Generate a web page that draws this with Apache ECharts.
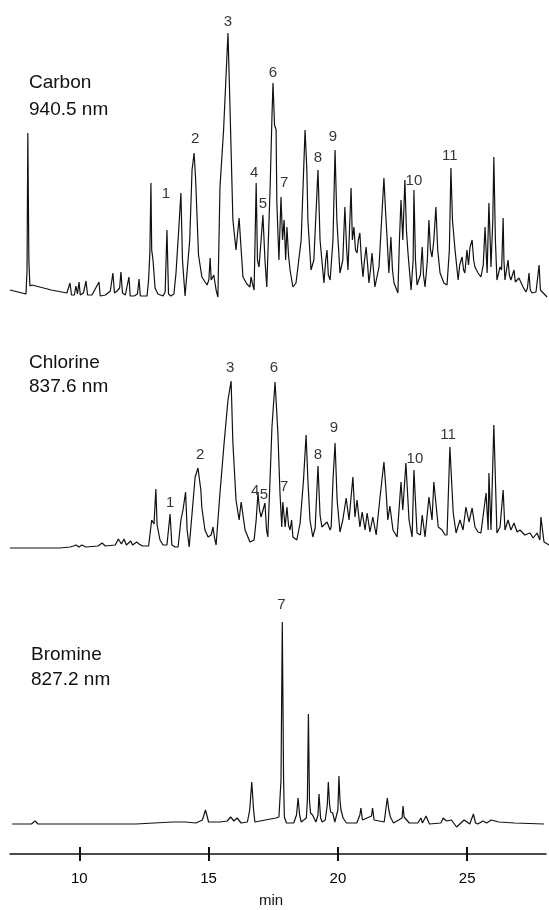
<!DOCTYPE html>
<html>
<head>
<meta charset="utf-8">
<script src="https://cdn.jsdelivr.net/npm/echarts@6/dist/echarts.min.js"></script>
<style>
  html, body { margin: 0; padding: 0; background: #fff; }
  #chroma { width: 549px; height: 910px; }
</style>
</head>
<body>
<div id="chroma"></div>
<script>
// retention time (min), detector response (arbitrary units)
var carbonTrace = [
  [7.32, 10], [7.94, 6], [7.98, 30], [8.01, 167], [8.05, 40], [8.09, 14], [8.17, 15], [8.92, 10], [9.52, 7],
  [9.59, 7], [9.64, 17], [9.70, 5], [9.81, 5], [9.87, 14], [9.93, 6], [9.99, 18], [10.04, 5], [10.16, 7],
  [10.26, 19], [10.32, 5], [10.49, 5], [10.76, 18], [10.81, 4], [11.01, 5], [11.20, 9], [11.30, 27], [11.36, 7],
  [11.46, 9], [11.56, 12], [11.61, 28], [11.67, 7], [11.78, 5], [11.92, 23], [11.97, 4], [12.12, 4], [12.25, 6],
  [12.31, 21], [12.36, 4], [12.62, 4], [12.68, 20], [12.73, 48], [12.77, 117], [12.80, 50], [12.85, 40],
  [12.93, 12], [13.04, 6], [13.24, 4], [13.32, 8], [13.39, 70], [13.45, 6], [13.54, 4], [13.66, 6], [13.74, 27],
  [13.82, 60], [13.93, 107], [13.99, 40], [14.09, 4], [14.16, 6], [14.27, 60], [14.36, 130], [14.44, 147],
  [14.50, 120], [14.61, 45], [14.74, 23], [14.94, 15], [15.01, 20], [15.06, 42], [15.10, 20], [15.20, 25],
  [15.29, 10], [15.36, 3], [15.44, 113], [15.58, 170], [15.75, 267], [15.82, 200], [15.94, 80], [16.06, 50],
  [16.18, 82], [16.26, 50], [16.33, 23], [16.48, 16], [16.60, 13], [16.64, 23], [16.72, 14], [16.76, 10],
  [16.84, 117], [16.89, 40], [16.95, 33], [17.03, 60], [17.10, 85], [17.18, 40], [17.25, 13], [17.38, 113],
  [17.45, 183], [17.49, 217], [17.55, 175], [17.61, 170], [17.64, 97], [17.72, 40], [17.80, 103], [17.86, 60],
  [17.92, 80], [17.98, 40], [18.03, 73], [18.09, 45], [18.15, 30], [18.26, 13], [18.38, 17], [18.45, 15],
  [18.58, 60], [18.73, 170], [18.80, 130], [18.84, 80], [18.96, 30], [19.07, 40], [19.23, 130], [19.31, 60],
  [19.46, 17], [19.53, 40], [19.58, 50], [19.63, 25], [19.70, 20], [19.81, 60], [19.89, 150], [19.96, 80],
  [20.08, 27], [20.19, 40], [20.27, 93], [20.34, 50], [20.39, 30], [20.51, 112], [20.56, 60], [20.62, 73],
  [20.68, 50], [20.74, 47], [20.79, 60], [20.85, 67], [20.91, 40], [20.97, 23], [21.03, 40], [21.09, 53],
  [21.15, 35], [21.20, 17], [21.26, 30], [21.32, 47], [21.35, 45], [21.43, 13], [21.48, 13], [21.59, 33],
  [21.69, 80], [21.78, 122], [21.84, 90], [21.90, 63], [21.97, 27], [22.05, 63], [22.11, 30], [22.17, 17],
  [22.32, 7], [22.38, 60], [22.44, 100], [22.51, 60], [22.59, 120], [22.65, 70], [22.71, 47], [22.83, 10],
  [22.91, 40], [22.94, 110], [23.00, 40], [23.06, 15], [23.19, 25], [23.26, 53], [23.31, 25], [23.37, 13],
  [23.46, 40], [23.52, 80], [23.58, 50], [23.64, 43], [23.71, 60], [23.79, 93], [23.86, 50], [23.95, 27],
  [24.10, 17], [24.22, 15], [24.31, 50], [24.37, 132], [24.43, 80], [24.53, 50], [24.65, 20], [24.71, 35],
  [24.80, 43], [24.86, 30], [24.91, 27], [24.99, 50], [25.05, 35], [25.11, 53], [25.19, 60], [25.25, 40],
  [25.30, 33], [25.42, 27], [25.53, 23], [25.62, 35], [25.69, 73], [25.77, 27], [25.84, 97], [25.90, 50],
  [25.92, 33], [25.99, 80], [26.03, 143], [26.09, 60], [26.15, 20], [26.27, 33], [26.33, 30], [26.39, 82],
  [26.42, 40], [26.46, 20], [26.58, 40], [26.63, 25], [26.69, 20], [26.81, 30], [26.86, 18], [26.93, 17],
  [27.00, 22], [27.04, 23], [27.16, 13], [27.27, 8], [27.33, 12], [27.39, 27], [27.44, 10], [27.51, 7],
  [27.66, 8], [27.78, 35], [27.83, 10], [27.89, 8], [28.09, 3]
];

var chlorineTrace = [
  [7.32, 12], [7.97, 12], [8.92, 12], [9.25, 12], [9.64, 13], [9.78, 14], [9.87, 15], [9.99, 13], [10.10, 15],
  [10.25, 13], [10.73, 14], [10.88, 17], [11.01, 14], [11.39, 15], [11.51, 21], [11.63, 16], [11.73, 21],
  [11.82, 15], [11.99, 19], [12.06, 15], [12.22, 18], [12.31, 16], [12.44, 14], [12.58, 14], [12.68, 14],
  [12.80, 40], [12.89, 36], [12.96, 71], [13.01, 35], [13.12, 20], [13.24, 15], [13.39, 15], [13.51, 46],
  [13.58, 15], [13.71, 13], [13.82, 13], [13.93, 40], [14.01, 50], [14.11, 68], [14.17, 30], [14.25, 13],
  [14.32, 13], [14.48, 83], [14.59, 92], [14.70, 70], [14.74, 52], [14.86, 30], [14.98, 23], [15.10, 25],
  [15.17, 33], [15.23, 22], [15.29, 15], [15.36, 15], [15.44, 67], [15.60, 117], [15.75, 160], [15.87, 179],
  [15.94, 117], [16.06, 60], [16.18, 40], [16.26, 58], [16.41, 30], [16.60, 18], [16.76, 20], [16.84, 40],
  [16.91, 67], [16.97, 50], [17.03, 43], [17.18, 57], [17.24, 30], [17.29, 23], [17.38, 83], [17.45, 133],
  [17.57, 178], [17.68, 127], [17.76, 67], [17.83, 33], [17.87, 58], [17.96, 33], [18.03, 53], [18.09, 35],
  [18.15, 30], [18.21, 40], [18.26, 23], [18.41, 20], [18.54, 37], [18.67, 80], [18.77, 125], [18.84, 80],
  [18.92, 40], [19.03, 23], [19.12, 32], [19.23, 94], [19.31, 45], [19.38, 33], [19.58, 38], [19.70, 30],
  [19.74, 33], [19.81, 80], [19.89, 117], [19.97, 60], [20.08, 28], [20.19, 40], [20.32, 62], [20.43, 40],
  [20.58, 83], [20.66, 43], [20.74, 60], [20.85, 33], [20.94, 48], [21.05, 30], [21.13, 47], [21.24, 28],
  [21.35, 43], [21.48, 25], [21.63, 63], [21.78, 98], [21.86, 70], [21.93, 40], [22.01, 54], [22.13, 30],
  [22.29, 23], [22.44, 78], [22.51, 50], [22.63, 97], [22.75, 40], [22.87, 23], [22.94, 90], [23.06, 27],
  [23.19, 25], [23.26, 45], [23.37, 23], [23.52, 63], [23.64, 40], [23.71, 78], [23.88, 33], [24.03, 30],
  [24.14, 25], [24.22, 25], [24.33, 113], [24.46, 47], [24.57, 27], [24.72, 40], [24.84, 30], [24.95, 53],
  [25.07, 38], [25.19, 52], [25.30, 33], [25.42, 28], [25.53, 27], [25.73, 67], [25.81, 30], [25.84, 87],
  [25.92, 30], [26.03, 135], [26.15, 27], [26.27, 33], [26.39, 70], [26.46, 30], [26.58, 40], [26.69, 30],
  [26.81, 37], [26.93, 28], [27.04, 30], [27.23, 25], [27.43, 27], [27.55, 22], [27.70, 27], [27.81, 20],
  [27.85, 43], [27.97, 18], [28.17, 15]
];

var bromineTrace = [
  [7.40, 16], [8.15, 16], [8.29, 19], [8.40, 16], [12.2, 16], [12.89, 17], [13.62, 18], [14.11, 18],
  [14.51, 17], [14.76, 20], [14.88, 30], [15.0, 18], [15.04, 17], [15.45, 18], [15.72, 19], [15.85, 23],
  [15.98, 19], [16.10, 22], [16.26, 17], [16.50, 18], [16.59, 30], [16.67, 58], [16.74, 30], [16.79, 18],
  [17.60, 22], [17.72, 23], [17.80, 60], [17.85, 218], [17.90, 60], [17.93, 23], [18.01, 17], [18.29, 17],
  [18.40, 25], [18.46, 42], [18.52, 25], [18.58, 18], [18.78, 22], [18.82, 40], [18.86, 126], [18.90, 40],
  [18.94, 27], [19.02, 25], [19.08, 27], [19.15, 18], [19.23, 25], [19.27, 46], [19.33, 22], [19.39, 18],
  [19.51, 20], [19.59, 35], [19.63, 58], [19.68, 35], [19.72, 28], [19.80, 27], [19.88, 18], [20.0, 30],
  [20.04, 64], [20.08, 40], [20.12, 30], [20.20, 22], [20.33, 17], [20.73, 17], [20.85, 25], [20.89, 32],
  [20.95, 20], [21.02, 18], [21.30, 24], [21.34, 32], [21.40, 20], [21.46, 18], [21.79, 18], [21.85, 30],
  [21.91, 42], [21.97, 30], [22.03, 23], [22.15, 17], [22.48, 22], [22.52, 34], [22.56, 23], [22.60, 21],
  [22.76, 17], [23.09, 17], [23.21, 22], [23.27, 17], [23.41, 24], [23.54, 16], [23.98, 17], [24.07, 22],
  [24.20, 19], [24.39, 20], [24.59, 13], [24.88, 20], [25.10, 16], [25.24, 26], [25.32, 17], [25.41, 16],
  [25.61, 19], [25.75, 17], [25.93, 20], [26.22, 18], [26.83, 17], [27.97, 16]
];

// peak numbers: [time, height where the number sits, text]
var carbonPeaks = [
  [13.35, 106, '1'], [14.48, 161, '2'], [15.75, 278, '3'], [16.76, 127, '4'], [17.10, 96, '5'],
  [17.49, 227, '6'], [17.92, 117, '7'], [19.23, 142, '8'], [19.81, 163, '9'], [22.94, 119, '10'],
  [24.33, 144, '11']
];
var chlorinePeaks = [
  [13.51, 57, '1'], [14.67, 105, '2'], [15.83, 192, '3'], [16.80, 69, '4'], [17.14, 65, '5'],
  [17.53, 192, '6'], [17.92, 73, '7'], [19.23, 105, '8'], [19.85, 132, '9'], [22.98, 101, '10'],
  [24.26, 125, '11']
];
var brominePeaks = [
  [17.82, 235, '7']
];

var panelNames = ['Carbon', 'Chlorine', 'Bromine'];
var panelLines = ['940.5 nm', '837.6 nm', '827.2 nm'];
var timeTicks = [10, 15, 20, 25];

(function () {
  var chart = echarts.init(document.getElementById('chroma'));
  var ink = '#000';
  var font = '"Liberation Sans", Arial, Helvetica, sans-serif';
  var tMin = 6.934, tMax = 28.163;   // full page width, 0..549 px

  function hiddenX(i) {
    return { type: 'value', gridIndex: i, min: tMin, max: tMax, show: false };
  }
  function hiddenY(i, max) {
    return { type: 'value', gridIndex: i, min: 0, max: max, show: false };
  }
  function trace(i, data) {
    return {
      type: 'line', xAxisIndex: i, yAxisIndex: i, data: data,
      symbol: 'none', silent: true,
      lineStyle: { color: '#111', width: 1.2 }
    };
  }
  function numbers(i, data) {
    return {
      type: 'scatter', xAxisIndex: i, yAxisIndex: i, data: data,
      symbolSize: 0, silent: true,
      label: {
        show: true, position: 'inside', color: ink,
        textBorderWidth: 0, fontFamily: font, fontSize: 15,
        formatter: function (p) { return p.value[2]; }
      }
    };
  }
  function caption(text, x, y, size, align) {
    return {
      type: 'text', x: x, y: y,
      style: { text: text, fill: '#111', font: (size || 19) + 'px ' + font, verticalAlign: 'middle', align: align || 'left' }
    };
  }

  chart.setOption({
    backgroundColor: '#fff',
    animation: false,
    grid: [
      { left: 0, right: 0, top: 0, height: 300 },
      { left: 0, right: 0, top: 300, height: 260 },
      { left: 0, right: 0, top: 560, height: 280 },
      { left: 10, right: 3, top: 800, height: 54 }
    ],
    xAxis: [
      hiddenX(0), hiddenX(1), hiddenX(2),
      {
        type: 'value', gridIndex: 3, min: 7.32, max: 28.047, position: 'bottom',
        axisLine: { lineStyle: { color: '#111', width: 1.5 } },
        axisTick: { customValues: timeTicks, length: 7, lineStyle: { color: '#111', width: 2 } },
        axisLabel: { customValues: timeTicks, margin: 17, color: ink, fontFamily: font, fontSize: 15 },
        splitLine: { show: false }
      },
      {
        // upper half of the crossing ticks
        type: 'value', gridIndex: 3, min: 7.32, max: 28.047, position: 'bottom', offset: 0,
        axisLine: { show: false },
        axisTick: { customValues: timeTicks, inside: true, length: 7, lineStyle: { color: '#111', width: 2 } },
        axisLabel: { show: false },
        splitLine: { show: false }
      }
    ],
    yAxis: [hiddenY(0, 300), hiddenY(1, 260), hiddenY(2, 280), hiddenY(3, 1)],
    graphic: [
      caption(panelNames[0], 29, 83), caption(panelLines[0], 29, 110),
      caption(panelNames[1], 29, 363), caption(panelLines[1], 29, 387),
      caption(panelNames[2], 31, 655), caption(panelLines[2], 31, 680),
      caption('min', 271, 901, 15, 'center')
    ],
    series: [
      trace(0, carbonTrace), trace(1, chlorineTrace), trace(2, bromineTrace),
      numbers(0, carbonPeaks), numbers(1, chlorinePeaks), numbers(2, brominePeaks)
    ]
  });
})();
</script>
</body>
</html>
